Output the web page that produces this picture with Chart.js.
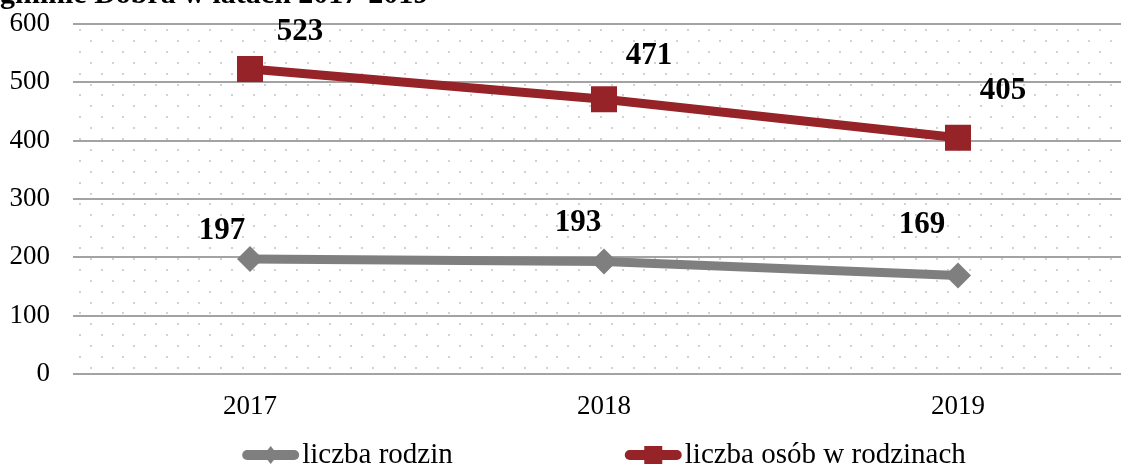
<!DOCTYPE html>
<html>
<head>
    <title>Liczba rodzin</title>
    <script src="https://cdn.jsdelivr.net/npm/chart.js"></script>
    <style>
        html, body { margin: 0; padding: 0; background: #ffffff; overflow: hidden; }
        #wrap { position: relative; width: 1135px; height: 466px; }
    </style>
</head>
<body>
    <div id="wrap"><canvas id="families-chart" width="1135" height="466"></canvas></div>

    <script>
        const years = ['2017', '2018', '2019'];
        const familyCount = [197, 193, 169];
        const personCount = [523, 471, 405];
        const seriesNames = ['liczba rodzin', 'liczba osób w rodzinach'];
        const titleText = 'gminie Dobra w latach 2017-2019';

        const SERIF = '"Liberation Serif", "Times New Roman", serif';
        const GREY = '#7f7f7f';
        const RED = '#952328';

        // clipped title at the very top (only its lower part shows)
        const titlePlugin = {
            id: 'cutTitle',
            afterDraw(chart) {
                const ctx = chart.ctx;
                ctx.save();
                ctx.font = 'bold 30px ' + SERIF;
                ctx.fillStyle = '#000';
                ctx.textBaseline = 'alphabetic';
                ctx.textAlign = 'left';
                ctx.fillText(titleText, 0, 3);
                ctx.restore();
            }
        };

        // Excel-like dotted fill of the plot area
        const dotsPlugin = {
            id: 'dots',
            beforeDraw(chart) {
                const a = chart.chartArea;
                const ctx = chart.ctx;
                ctx.save();
                ctx.fillStyle = '#d2d2d2';
                let row = 0;
                for (let y = a.top + 6; y < a.bottom - 2; y += 10.9, row++) {
                    const start = a.left + (row % 2 ? 18 : 7);
                    for (let x = start; x < a.right; x += 21.7) {
                        ctx.fillRect(Math.round(x) - 1, Math.round(y) - 1, 2, 2);
                    }
                }
                ctx.restore();
            }
        };

        // value labels next to each point
        const valueLabels = {
            id: 'valueLabels',
            afterDatasetsDraw(chart, args, opts) {
                const ctx = chart.ctx;
                ctx.save();
                ctx.font = 'bold 31px ' + SERIF;
                ctx.fillStyle = '#000';
                ctx.textAlign = 'center';
                ctx.textBaseline = 'middle';
                chart.data.datasets.forEach((ds, i) => {
                    const meta = chart.getDatasetMeta(i);
                    meta.data.forEach((pt, j) => {
                        const off = opts.offsets[i][j];
                        ctx.fillText(String(ds.data[j]), pt.x + off[0], pt.y + off[1]);
                    });
                });
                ctx.restore();
            }
        };

        // legend: line with marker, then text
        const lineLegend = {
            id: 'lineLegend',
            afterDraw(chart) {
                const ctx = chart.ctx;
                const a = chart.chartArea;
                const glyphW = 57, textGap = 3, itemGap = 172;
                ctx.save();
                ctx.font = '29px ' + SERIF;
                const widths = chart.data.datasets.map(ds => glyphW + textGap + ctx.measureText(ds.label).width);
                const total = widths.reduce((s, w) => s + w, 0) + itemGap * (widths.length - 1);
                let x = (a.left + a.right) / 2 - total / 2;
                const y = 455;
                chart.data.datasets.forEach((ds, i) => {
                    ctx.strokeStyle = ds.borderColor;
                    ctx.lineWidth = 10;
                    ctx.lineCap = 'round';
                    ctx.beginPath();
                    ctx.moveTo(x + 5, y);
                    ctx.lineTo(x + glyphW - 5, y);
                    ctx.stroke();
                    ctx.fillStyle = ds.borderColor;
                    const cx = x + glyphW / 2;
                    ctx.beginPath();
                    if (ds.pointStyle === 'rect') {
                        ctx.rect(cx - 9, y - 9, 18, 18);
                    } else {
                        ctx.moveTo(cx, y - 9); ctx.lineTo(cx + 7, y);
                        ctx.lineTo(cx, y + 9); ctx.lineTo(cx - 7, y);
                        ctx.closePath();
                    }
                    ctx.fill();
                    ctx.fillStyle = '#000';
                    ctx.textBaseline = 'middle';
                    ctx.textAlign = 'left';
                    ctx.fillText(ds.label, x + glyphW + textGap, y);
                    x += widths[i] + itemGap;
                });
                ctx.restore();
            }
        };

        const ctx = document.getElementById('families-chart').getContext('2d');
        new Chart(ctx, {
            type: 'line',
            data: {
                labels: years,
                datasets: [{
                    label: seriesNames[0],
                    data: familyCount,
                    borderColor: GREY,
                    backgroundColor: GREY,
                    borderWidth: 9,
                    pointStyle: 'rectRot',
                    pointRadius: 13,
                    pointHoverRadius: 13,
                    pointBorderWidth: 0,
                    fill: false,
                    tension: 0,
                }, {
                    label: seriesNames[1],
                    data: personCount,
                    borderColor: RED,
                    backgroundColor: RED,
                    borderWidth: 9,
                    pointStyle: 'rect',
                    pointRadius: 18.4,
                    pointHoverRadius: 18.4,
                    pointBorderWidth: 0,
                    fill: false,
                    tension: 0,
                }],
            },
            options: {
                responsive: false,
                animation: false,
                devicePixelRatio: 1,
                layout: {
                    autoPadding: false,
                    padding: { top: 24, bottom: 42, left: 0, right: 0 },
                },
                plugins: {
                    legend: { display: false },
                    title: { display: false },
                    tooltip: { enabled: false },
                    valueLabels: {
                        offsets: [
                            [[-28, -28], [-26, -38], [-36, -50]],
                            [[50, -37], [45, -43], [45, -47]],
                        ],
                    },
                },
                scales: {
                    x: {
                        offset: true,
                        afterFit(scale) {
                            scale.height = 50;
                            scale.paddingLeft = 0;
                            scale.paddingRight = 0;
                        },
                        grid: { display: false, drawTicks: false },
                        border: { display: false },
                        ticks: {
                            padding: 17,
                            color: '#000',
                            font: { family: SERIF, size: 27 },
                        },
                    },
                    y: {
                        min: 0,
                        max: 600,
                        afterFit(scale) {
                            scale.width = 73;
                            scale.paddingTop = 0;
                            scale.paddingBottom = 0;
                        },
                        grid: { color: '#a3a3a3', lineWidth: 2, drawTicks: false },
                        border: { display: false },
                        ticks: {
                            stepSize: 100,
                            padding: 23,
                            color: '#000',
                            font: { family: SERIF, size: 27 },
                        },
                    },
                },
            },
            plugins: [dotsPlugin, valueLabels, lineLegend, titlePlugin],
        });
    </script>
</body>
</html>
